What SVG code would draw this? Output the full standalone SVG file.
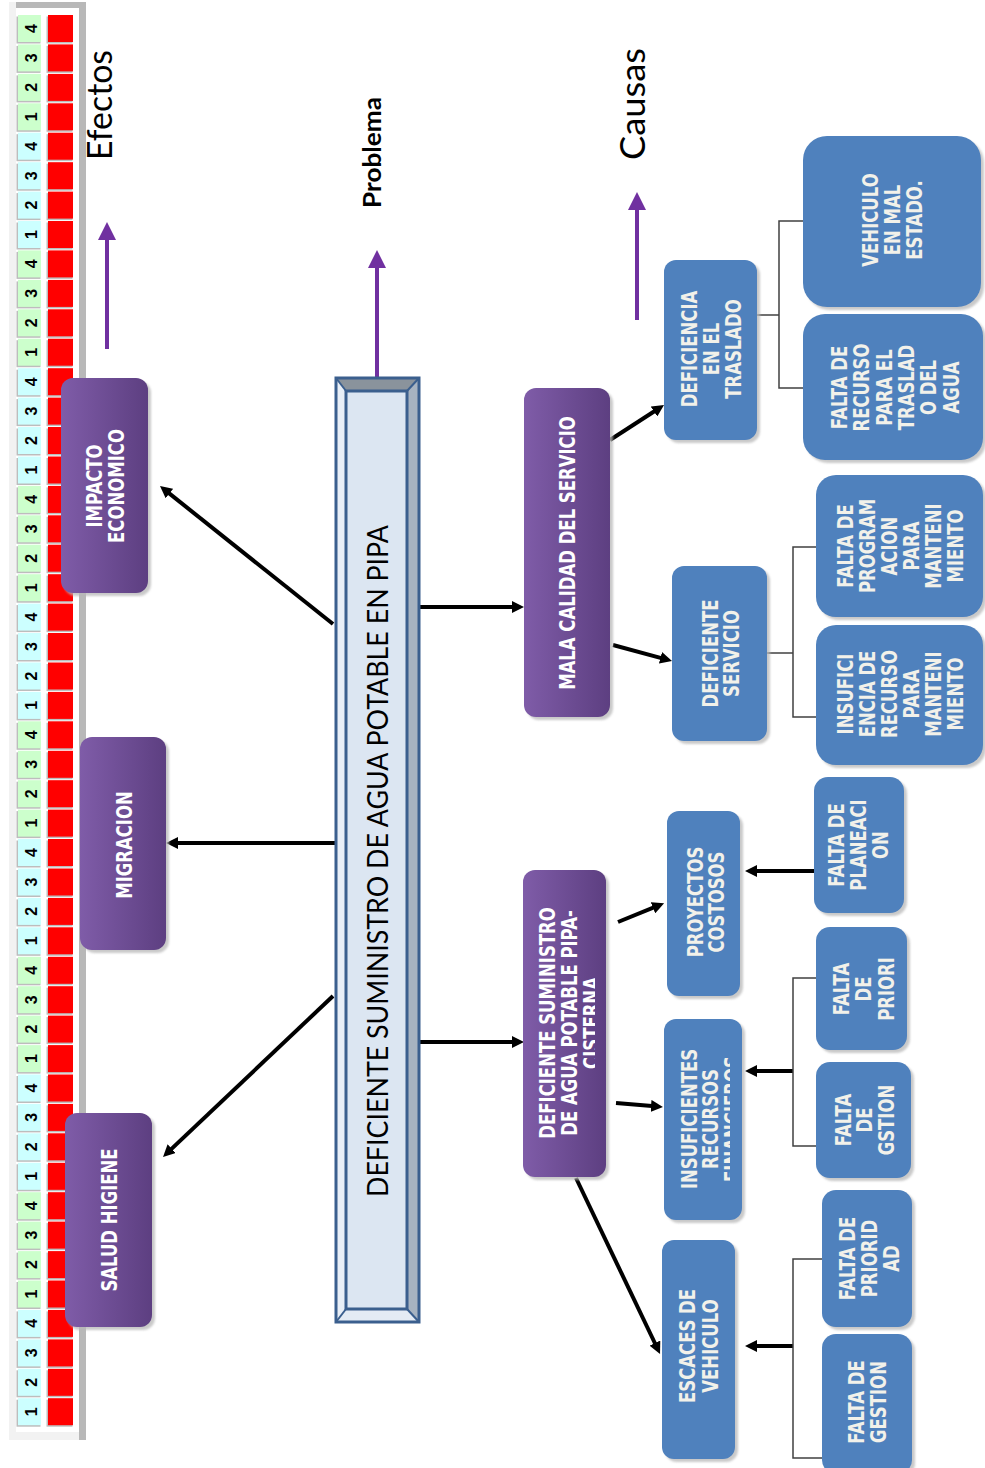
<svg xmlns="http://www.w3.org/2000/svg" width="985" height="1468" viewBox="0 0 985 1468">
<defs>
<style>
.bt{font-family:"DejaVu Sans",Verdana,sans-serif;font-weight:bold;font-size:16.5px;fill:#f2f1ea;text-anchor:middle}
.wt{fill:#ffffff}
.blue{fill:#4f81bd}
.purp{fill:url(#pg)}
.sh{fill:#b8b8b8;opacity:.75;filter:url(#bl)}
.num{font-family:"Liberation Sans",Arial,sans-serif;font-weight:bold;font-size:16px;fill:#000;text-anchor:middle}
.thick{stroke:#000;stroke-width:4;fill:none;marker-end:url(#ah)}
.thin{stroke:#404040;stroke-width:1.5;fill:none}
.parrow{stroke:#7030a0;stroke-width:4;fill:none;marker-end:url(#pah)}
.big{font-family:Lato,"Open Sans",sans-serif;fill:#000;text-anchor:middle}
</style>
<filter id="bl" x="-10%" y="-10%" width="120%" height="120%"><feGaussianBlur stdDeviation="1.2"/></filter>
<linearGradient id="pg" x1="0" y1="0" x2="1" y2="0">
<stop offset="0" stop-color="#7f5ca8"/>
<stop offset="1" stop-color="#5d3f81"/>
</linearGradient>
<marker id="ah" viewBox="0 0 12 12" refX="1" refY="6" markerWidth="12" markerHeight="12" markerUnits="userSpaceOnUse" orient="auto">
<path d="M0,0 L12,6 L0,12 z" fill="#000"/>
</marker>
<marker id="pah" viewBox="0 0 18 18" refX="2" refY="9" markerWidth="18" markerHeight="18" markerUnits="userSpaceOnUse" orient="auto">
<path d="M0,0 L18,9 L0,18 z" fill="#7030a0"/>
</marker>
<g id="cg">
<rect x="16.5" y="1.5" width="24" height="27" fill="#bdbdbd"/>
<rect x="18" y="0" width="23" height="27" fill="#ccffcc"/>
<rect x="46.5" y="1.5" width="26" height="27" fill="#bdbdbd"/>
<rect x="48" y="0" width="25" height="27" fill="#ff0000"/>
</g>
<g id="cc">
<rect x="16.5" y="1.5" width="24" height="27" fill="#bdbdbd"/>
<rect x="18" y="0" width="23" height="27" fill="#ccffff"/>
<rect x="46.5" y="1.5" width="26" height="27" fill="#bdbdbd"/>
<rect x="48" y="0" width="25" height="27" fill="#ff0000"/>
</g>
<clipPath id="clipDS"><rect x="520" y="860" width="75" height="330"/></clipPath>
<clipPath id="clipIR"><rect x="660" y="1010" width="70" height="220"/></clipPath>
</defs>

<rect width="985" height="1468" fill="#ffffff"/>

<g id="strip">
<rect x="9" y="2" width="77" height="1438" fill="#f2f2f2"/>
<rect x="16" y="8" width="63" height="1424" fill="#ffffff"/>
<rect x="16" y="2" width="70" height="6" fill="#b8b8b8"/>
<rect x="79" y="2" width="7" height="1438" fill="#b8b8b8"/>
<use href="#cg" y="15.0"/><use href="#cg" y="44.4"/><use href="#cg" y="73.9"/><use href="#cg" y="103.3"/>
<use href="#cc" y="132.7"/><use href="#cc" y="162.2"/><use href="#cc" y="191.6"/><use href="#cc" y="221.0"/>
<use href="#cg" y="250.4"/><use href="#cg" y="279.9"/><use href="#cg" y="309.3"/><use href="#cg" y="338.7"/>
<use href="#cc" y="368.2"/><use href="#cc" y="397.6"/><use href="#cc" y="427.0"/><use href="#cc" y="456.5"/>
<use href="#cg" y="485.9"/><use href="#cg" y="515.3"/><use href="#cg" y="544.7"/><use href="#cg" y="574.2"/>
<use href="#cc" y="603.6"/><use href="#cc" y="633.0"/><use href="#cc" y="662.5"/><use href="#cc" y="691.9"/>
<use href="#cg" y="721.3"/><use href="#cg" y="750.8"/><use href="#cg" y="780.2"/><use href="#cg" y="809.6"/>
<use href="#cc" y="839.0"/><use href="#cc" y="868.5"/><use href="#cc" y="897.9"/><use href="#cc" y="927.3"/>
<use href="#cg" y="956.8"/><use href="#cg" y="986.2"/><use href="#cg" y="1015.6"/><use href="#cg" y="1045.1"/>
<use href="#cc" y="1074.5"/><use href="#cc" y="1103.9"/><use href="#cc" y="1133.3"/><use href="#cc" y="1162.8"/>
<use href="#cg" y="1192.2"/><use href="#cg" y="1221.6"/><use href="#cg" y="1251.1"/><use href="#cg" y="1280.5"/>
<use href="#cc" y="1309.9"/><use href="#cc" y="1339.4"/><use href="#cc" y="1368.8"/><use href="#cc" y="1398.2"/>
<text class="num" transform="translate(36.5,28.5) rotate(-90)">4</text>
<text class="num" transform="translate(36.5,57.9) rotate(-90)">3</text>
<text class="num" transform="translate(36.5,87.4) rotate(-90)">2</text>
<text class="num" transform="translate(36.5,116.8) rotate(-90)">1</text>
<text class="num" transform="translate(36.5,146.2) rotate(-90)">4</text>
<text class="num" transform="translate(36.5,175.7) rotate(-90)">3</text>
<text class="num" transform="translate(36.5,205.1) rotate(-90)">2</text>
<text class="num" transform="translate(36.5,234.5) rotate(-90)">1</text>
<text class="num" transform="translate(36.5,263.9) rotate(-90)">4</text>
<text class="num" transform="translate(36.5,293.4) rotate(-90)">3</text>
<text class="num" transform="translate(36.5,322.8) rotate(-90)">2</text>
<text class="num" transform="translate(36.5,352.2) rotate(-90)">1</text>
<text class="num" transform="translate(36.5,381.7) rotate(-90)">4</text>
<text class="num" transform="translate(36.5,411.1) rotate(-90)">3</text>
<text class="num" transform="translate(36.5,440.5) rotate(-90)">2</text>
<text class="num" transform="translate(36.5,470.0) rotate(-90)">1</text>
<text class="num" transform="translate(36.5,499.4) rotate(-90)">4</text>
<text class="num" transform="translate(36.5,528.8) rotate(-90)">3</text>
<text class="num" transform="translate(36.5,558.2) rotate(-90)">2</text>
<text class="num" transform="translate(36.5,587.7) rotate(-90)">1</text>
<text class="num" transform="translate(36.5,617.1) rotate(-90)">4</text>
<text class="num" transform="translate(36.5,646.5) rotate(-90)">3</text>
<text class="num" transform="translate(36.5,676.0) rotate(-90)">2</text>
<text class="num" transform="translate(36.5,705.4) rotate(-90)">1</text>
<text class="num" transform="translate(36.5,734.8) rotate(-90)">4</text>
<text class="num" transform="translate(36.5,764.3) rotate(-90)">3</text>
<text class="num" transform="translate(36.5,793.7) rotate(-90)">2</text>
<text class="num" transform="translate(36.5,823.1) rotate(-90)">1</text>
<text class="num" transform="translate(36.5,852.5) rotate(-90)">4</text>
<text class="num" transform="translate(36.5,882.0) rotate(-90)">3</text>
<text class="num" transform="translate(36.5,911.4) rotate(-90)">2</text>
<text class="num" transform="translate(36.5,940.8) rotate(-90)">1</text>
<text class="num" transform="translate(36.5,970.3) rotate(-90)">4</text>
<text class="num" transform="translate(36.5,999.7) rotate(-90)">3</text>
<text class="num" transform="translate(36.5,1029.1) rotate(-90)">2</text>
<text class="num" transform="translate(36.5,1058.6) rotate(-90)">1</text>
<text class="num" transform="translate(36.5,1088.0) rotate(-90)">4</text>
<text class="num" transform="translate(36.5,1117.4) rotate(-90)">3</text>
<text class="num" transform="translate(36.5,1146.8) rotate(-90)">2</text>
<text class="num" transform="translate(36.5,1176.3) rotate(-90)">1</text>
<text class="num" transform="translate(36.5,1205.7) rotate(-90)">4</text>
<text class="num" transform="translate(36.5,1235.1) rotate(-90)">3</text>
<text class="num" transform="translate(36.5,1264.6) rotate(-90)">2</text>
<text class="num" transform="translate(36.5,1294.0) rotate(-90)">1</text>
<text class="num" transform="translate(36.5,1323.4) rotate(-90)">4</text>
<text class="num" transform="translate(36.5,1352.9) rotate(-90)">3</text>
<text class="num" transform="translate(36.5,1382.3) rotate(-90)">2</text>
<text class="num" transform="translate(36.5,1411.7) rotate(-90)">1</text>
</g>

<g id="labels">
<text class="big" font-size="35" textLength="110" lengthAdjust="spacingAndGlyphs" transform="translate(112,105) rotate(-90)">Efectos</text>
<text class="big" font-size="24" font-weight="bold" textLength="111" lengthAdjust="spacingAndGlyphs" transform="translate(381,152.5) rotate(-90)">Problema</text>
<text class="big" font-size="35" textLength="112" lengthAdjust="spacingAndGlyphs" transform="translate(645,104) rotate(-90)">Causas</text>
</g>

<g id="connectors">
<line class="parrow" x1="107" y1="349" x2="107" y2="238"/>
<line class="parrow" x1="377" y1="378" x2="377" y2="266"/>
<line class="parrow" x1="637" y1="320" x2="637" y2="208"/>
<line class="thick" x1="333" y1="624" x2="168.6" y2="492.9"/>
<line class="thick" x1="336" y1="843" x2="177" y2="843"/>
<line class="thick" x1="333" y1="996" x2="171" y2="1149.4"/>
<line class="thick" x1="419" y1="607" x2="513" y2="607"/>
<line class="thick" x1="419" y1="1042" x2="513" y2="1042"/>
<line class="thick" x1="610" y1="440" x2="654.8" y2="411"/>
<line class="thick" x1="613" y1="645" x2="661.4" y2="658.1"/>
<line class="thick" x1="618" y1="922" x2="653.9" y2="907.4"/>
<line class="thick" x1="616" y1="1103" x2="652" y2="1106"/>
<line class="thick" x1="576" y1="1178" x2="655.3" y2="1344"/>
<line class="thick" x1="814" y1="871" x2="756" y2="871"/>
<line class="thick" x1="793" y1="1071" x2="756" y2="1071"/>
<line class="thick" x1="793" y1="1346" x2="756" y2="1346"/>
<polyline class="thin" points="757,315 779,315"/>
<polyline class="thin" points="803,221 779,221 779,388 803,388"/>
<polyline class="thin" points="767,653 793,653"/>
<polyline class="thin" points="817,547 793,547 793,717 822,717"/>
<polyline class="thin" points="816,978 793,978 793,1146 816,1146"/>
<polyline class="thin" points="822,1259 793,1259 793,1458 822,1458"/>
</g>

<g id="problem">
<rect x="336" y="378" width="83" height="944" fill="#dce6f2"/>
<polygon points="336,378 419,378 407,391 346,391" fill="#8a939c"/>
<polygon points="419,378 419,1322 407,1309 407,391" fill="#a7b3c1"/>
<polygon points="336,378 346,391 346,1309 336,1322" fill="#e9eff7"/>
<polygon points="336,1322 346,1309 407,1309 419,1322" fill="#e4ebf4"/>
<g stroke="#3b5f8e" stroke-width="2" fill="none">
<line x1="336" y1="378" x2="346" y2="391"/>
<line x1="419" y1="378" x2="407" y2="391"/>
<line x1="336" y1="1322" x2="346" y2="1309"/>
<line x1="419" y1="1322" x2="407" y2="1309"/>
</g>
<rect x="336" y="378" width="83" height="944" fill="none" stroke="#3b5f8e" stroke-width="3"/>
<rect x="346" y="391" width="61" height="918" fill="#dce6f2" stroke="#3b5f8e" stroke-width="3"/>
<text class="big" font-size="29" textLength="672" lengthAdjust="spacingAndGlyphs" transform="translate(388,861) rotate(-90)">DEFICIENTE SUMINISTRO DE AGUA POTABLE EN PIPA</text>
</g>

<g id="impacto">
<rect class="sh" x="64" y="381" width="87" height="215" rx="12"/>
<rect class="purp" x="61" y="378" width="87" height="215" rx="12"/>
<text class="bt wt" transform="translate(102,486) rotate(-90) scale(1,1.25)"><tspan x="0" y="0">IMPACTO</tspan><tspan x="0" y="17.4">ECONOMICO</tspan></text>
</g>
<g id="migracion">
<rect class="sh" x="83" y="740" width="86" height="213" rx="12"/>
<rect class="purp" x="80" y="737" width="86" height="213" rx="12"/>
<text class="bt wt" transform="translate(131.5,845) rotate(-90) scale(1,1.25)">MIGRACION</text>
</g>
<g id="salud">
<rect class="sh" x="68" y="1116" width="87" height="214" rx="12"/>
<rect class="purp" x="65" y="1113" width="87" height="214" rx="12"/>
<text class="bt wt" transform="translate(117,1220) rotate(-90) scale(1,1.25)">SALUD HIGIENE</text>
</g>

<g id="mala-calidad">
<rect class="sh" x="527" y="391" width="86" height="329" rx="12"/>
<rect class="purp" x="524" y="388" width="86" height="329" rx="12"/>
<text class="bt wt" transform="translate(574.5,553) rotate(-90) scale(1,1.25)">MALA CALIDAD DEL SERVICIO</text>
</g>
<g id="deficiente-suministro">
<rect class="sh" x="526" y="873" width="83" height="307" rx="12"/>
<rect class="purp" x="523" y="870" width="83" height="307" rx="12"/>
<g clip-path="url(#clipDS)">
<text class="bt wt" transform="translate(555,1023) rotate(-90) scale(1,1.25)"><tspan x="0" y="0">DEFICIENTE SUMINISTRO</tspan><tspan x="0" y="17.8">DE AGUA POTABLE PIPA-</tspan><tspan x="0" y="35.6">CISTERNA</tspan></text>
</g>
</g>

<g id="deficiencia-traslado">
<rect class="sh" x="667" y="263" width="93" height="180" rx="12"/>
<rect class="blue" x="664" y="260" width="93" height="180" rx="12"/>
<text class="bt" transform="translate(697,349) rotate(-90) scale(1,1.25)"><tspan x="0" y="0">DEFICIENCIA</tspan><tspan x="0" y="17.6">EN EL</tspan><tspan x="0" y="35.2">TRASLADO</tspan></text>
</g>
<g id="vehiculo-mal-estado">
<rect class="sh" x="806" y="139" width="178" height="171" rx="24"/>
<rect class="blue" x="803" y="136" width="178" height="171" rx="24"/>
<text class="bt" transform="translate(878,220) rotate(-90) scale(1,1.25)"><tspan x="0" y="0">VEHICULO</tspan><tspan x="0" y="17.6">EN MAL</tspan><tspan x="0" y="35.2">ESTADO.</tspan></text>
</g>
<g id="falta-recurso-traslado">
<rect class="sh" x="806" y="317" width="180" height="146" rx="22"/>
<rect class="blue" x="803" y="314" width="180" height="146" rx="22"/>
<text class="bt" transform="translate(847,387.5) rotate(-90) scale(1,1.25)"><tspan x="0" y="0">FALTA DE</tspan><tspan x="0" y="17.9">RECURSO</tspan><tspan x="0" y="35.8">PARA EL</tspan><tspan x="0" y="53.7">TRASLAD</tspan><tspan x="0" y="71.6">O DEL</tspan><tspan x="0" y="89.5">AGUA</tspan></text>
</g>
<g id="deficiente-servicio">
<rect class="sh" x="675" y="569" width="95" height="175" rx="12"/>
<rect class="blue" x="672" y="566" width="95" height="175" rx="12"/>
<text class="bt" transform="translate(718,653.5) rotate(-90) scale(1,1.25)"><tspan x="0" y="0">DEFICIENTE</tspan><tspan x="0" y="17.2">SERVICIO</tspan></text>
</g>
<g id="falta-programacion">
<rect class="sh" x="819" y="478" width="167" height="142" rx="20"/>
<rect class="blue" x="816" y="475" width="167" height="142" rx="20"/>
<text class="bt" transform="translate(853,546) rotate(-90) scale(1,1.25)"><tspan x="0" y="0">FALTA DE</tspan><tspan x="0" y="17.6">PROGRAM</tspan><tspan x="0" y="35.2">ACION</tspan><tspan x="0" y="52.8">PARA</tspan><tspan x="0" y="70.4">MANTENI</tspan><tspan x="0" y="88">MIENTO</tspan></text>
</g>
<g id="insuficiencia-recurso">
<rect class="sh" x="819" y="628" width="167" height="140" rx="20"/>
<rect class="blue" x="816" y="625" width="167" height="140" rx="20"/>
<text class="bt" transform="translate(853,694) rotate(-90) scale(1,1.25)"><tspan x="0" y="0">INSUFICI</tspan><tspan x="0" y="17.6">ENCIA DE</tspan><tspan x="0" y="35.2">RECURSO</tspan><tspan x="0" y="52.8">PARA</tspan><tspan x="0" y="70.4">MANTENI</tspan><tspan x="0" y="88">MIENTO</tspan></text>
</g>
<g id="proyectos-costosos">
<rect class="sh" x="670" y="814" width="73" height="185" rx="12"/>
<rect class="blue" x="667" y="811" width="73" height="185" rx="12"/>
<text class="bt" transform="translate(702.5,902) rotate(-90) scale(1,1.25)"><tspan x="0" y="0">PROYECTOS</tspan><tspan x="0" y="17.2">COSTOSOS</tspan></text>
</g>
<g id="falta-planeacion">
<rect class="sh" x="817" y="780" width="90" height="136" rx="14"/>
<rect class="blue" x="814" y="777" width="90" height="136" rx="14"/>
<text class="bt" transform="translate(843.5,845) rotate(-90) scale(1,1.25)"><tspan x="0" y="0">FALTA DE</tspan><tspan x="0" y="18">PLANEACI</tspan><tspan x="0" y="36">ON</tspan></text>
</g>
<g id="insuficientes-recursos">
<rect class="sh" x="667" y="1022" width="78" height="201" rx="12"/>
<rect class="blue" x="664" y="1019" width="78" height="201" rx="12"/>
<g clip-path="url(#clipIR)">
<text class="bt" transform="translate(697,1119) rotate(-90) scale(1,1.25)"><tspan x="0" y="0">INSUFICIENTES</tspan><tspan x="0" y="17.2">RECURSOS</tspan><tspan x="0" y="34.4">FINANCIEROS</tspan></text>
</g>
</g>
<g id="falta-priori">
<rect class="sh" x="819" y="930" width="91" height="123" rx="14"/>
<rect class="blue" x="816" y="927" width="91" height="123" rx="14"/>
<text class="bt" transform="translate(849,989) rotate(-90) scale(1,1.25)"><tspan x="0" y="0">FALTA</tspan><tspan x="0" y="18">DE</tspan><tspan x="0" y="36">PRIORI</tspan></text>
</g>
<g id="falta-gstion">
<rect class="sh" x="819" y="1065" width="95" height="116" rx="14"/>
<rect class="blue" x="816" y="1062" width="95" height="116" rx="14"/>
<text class="bt" transform="translate(851,1120) rotate(-90) scale(1,1.25)"><tspan x="0" y="0">FALTA</tspan><tspan x="0" y="17.2">DE</tspan><tspan x="0" y="34.4">GSTION</tspan></text>
</g>
<g id="escaces-vehiculo">
<rect class="sh" x="665" y="1243" width="73" height="219" rx="12"/>
<rect class="blue" x="662" y="1240" width="73" height="219" rx="12"/>
<text class="bt" transform="translate(695,1346) rotate(-90) scale(1,1.25)"><tspan x="0" y="0">ESCACES DE</tspan><tspan x="0" y="18.4">VEHICULO</tspan></text>
</g>
<g id="falta-prioridad">
<rect class="sh" x="825" y="1193" width="90" height="137" rx="14"/>
<rect class="blue" x="822" y="1190" width="90" height="137" rx="14"/>
<text class="bt" transform="translate(854.5,1258.5) rotate(-90) scale(1,1.25)"><tspan x="0" y="0">FALTA DE</tspan><tspan x="0" y="18">PRIORID</tspan><tspan x="0" y="36">AD</tspan></text>
</g>
<g id="falta-gestion">
<rect class="sh" x="825" y="1337" width="90" height="140" rx="14"/>
<rect class="blue" x="822" y="1334" width="90" height="140" rx="14"/>
<text class="bt" transform="translate(864,1402) rotate(-90) scale(1,1.25)"><tspan x="0" y="0">FALTA DE</tspan><tspan x="0" y="18">GESTION</tspan></text>
</g>
</svg>
